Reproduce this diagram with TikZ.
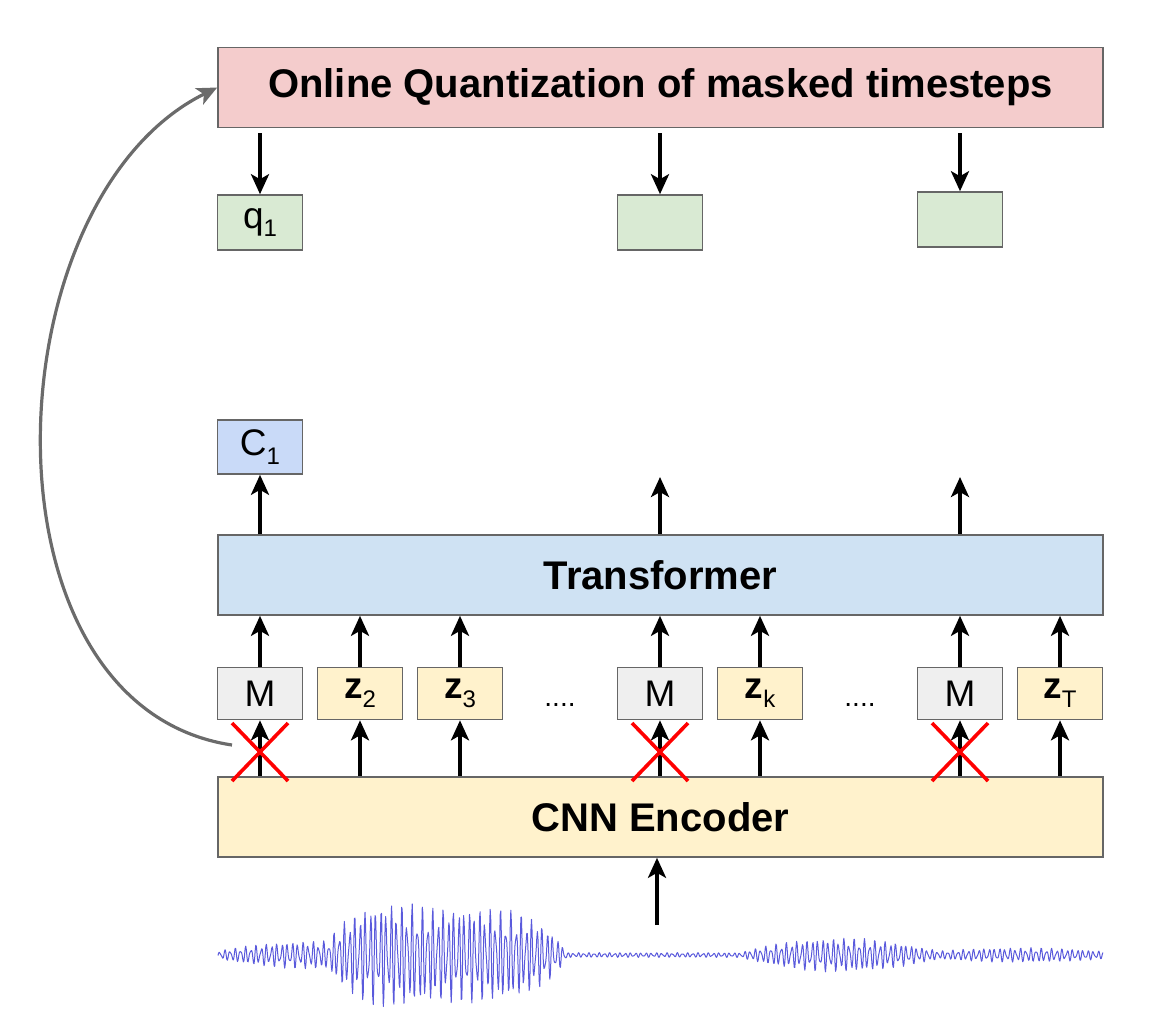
\documentclass[tikz,border=0pt]{standalone}
\usepackage{fontspec}
\setmainfont{Liberation Sans}
\usetikzlibrary{arrows.meta}
\tikzset{>={Stealth[length=10pt,width=9pt,inset=2.5pt]}}
\definecolor{quantpink}{HTML}{F4CCCC}
\definecolor{qgreen}{HTML}{D9EAD3}
\definecolor{cblue}{HTML}{C9DAF8}
\definecolor{transblue}{HTML}{CFE2F3}
\definecolor{cnnyellow}{HTML}{FFF2CC}
\definecolor{mgray}{HTML}{EFEFEF}
\definecolor{edgegray}{HTML}{666666}
\definecolor{wave}{HTML}{5A5ADC}
\newcommand{\lowidx}[1]{\raisebox{-0.45ex}{\fontsize{12}{12}\selectfont #1}}

\begin{document}
\begin{tikzpicture}[
  bar/.style={draw=edgegray, line width=0.8pt, minimum width=442.5pt,
    minimum height=40pt, inner sep=0pt,
    font=\fontsize{20}{24}\selectfont\bfseries},
  tok/.style={draw=edgegray, line width=0.8pt, minimum width=42.5pt,
    minimum height=26pt, inner sep=0pt, font=\fontsize{18.5}{20}\selectfont},
  flow/.style={->, line width=1.8pt},
  cross/.style={red, line width=1.8pt},
  feedback/.style={->, line width=1.6pt, color=black!58},
  declare function={bump(\t,\c,\w)=max(0,1-((\t-\c)/\w)*((\t-\c)/\w));
    flat(\t,\c,\w)=max(0,1-((\t-\c)/\w)*((\t-\c)/\w)*((\t-\c)/\w)*((\t-\c)/\w));}]

\newcommand\X{50pt}
\newcommand\Xo{130pt}
\newcommand\Ytok{-346.75pt}

  \useasboundingbox (0pt,0pt) rectangle (586.5pt,-512.5pt);

  %% wide blocks
  \node[bar, fill=quantpink] (quant) at (330.25pt,-43.75pt)
  {Online Quantization of masked timesteps};
  \node[bar, fill=transblue] (trans) at (330.25pt,-287.5pt) {Transformer};
  \node[bar, fill=cnnyellow] (cnn) at (330.25pt,-408.5pt) {CNN Encoder};

  %% quantized targets
  \node[tok, fill=qgreen, minimum height=27.5pt] (q1) at (\Xo, -111.25pt)
  {q\lowidx{1}};
  \node[tok, fill=qgreen, minimum height=27.5pt] (q4) at (\Xo+4*\X, -111.25pt) {};
  \node[tok, fill=qgreen, minimum height=27.5pt] (q7) at (\Xo+7*\X, -109.75pt) {};

  %% context outputs
  \node[tok, fill=cblue, minimum height=27pt] (c1) at (\Xo, -223.5pt) {C\lowidx{1}};
  \coordinate (c4) at (\Xo+4*\X, -238.5pt);
  \coordinate (c7) at (\Xo+7*\X, -238.5pt);

  %% latent row
  \node[tok, fill=mgray] (t0) at (\Xo, \Ytok) {M};
  \node[tok, fill=cnnyellow] (t1) at (\Xo+1*\X, \Ytok) {\textbf{z}\lowidx{2}};
  \node[tok, fill=cnnyellow] (t2) at (\Xo+2*\X, \Ytok) {\textbf{z}\lowidx{3}};
  \node[anchor=base, font=\fontsize{14}{14}\selectfont] (dots1)
  at (\Xo+3*\X, \Ytok-6.5pt) {....};
  \node[tok, fill=mgray] (t4) at (\Xo+4*\X, \Ytok) {M};
  \node[tok, fill=cnnyellow] (t5) at (\Xo+5*\X, \Ytok) {\textbf{z}\lowidx{k}};
  \node[anchor=base, font=\fontsize{14}{14}\selectfont] (dots2)
  at (\Xo+6*\X, \Ytok-6.5pt) {....};
  \node[tok, fill=mgray] (t7) at (\Xo+7*\X, \Ytok) {M};
  \node[tok, fill=cnnyellow] (t8) at (\Xo+8*\X, \Ytok) {\textbf{z}\lowidx{T}};

  \foreach \i in {0,1,2,4,5,7,8}{
    \draw[flow] (cnn.north -| t\i) -- (t\i.south);
    \draw[flow] (t\i.north) -- (t\i.north |- trans.south);
  }
  \draw[flow] (trans.north -| c1) -- (c1.south);
  \draw[flow] (trans.north -| c4) -- (c4);
  \draw[flow] (trans.north -| c7) -- (c7);
  \foreach \i in {1,4,7}
    \draw[flow, shorten <=2.5pt] (quant.south -| q\i) -- (q\i.north);

  %% masked timesteps
  \foreach \i in {0,4,7}
    \draw[cross] (t\i |- 0pt,-376pt) +(-14pt,-14.5pt) -- +(14pt,14.5pt)
    +(-14pt,14.5pt) -- +(14pt,-14.5pt);

  \coordinate (masked) at (116pt,-372.5pt);
  \draw[feedback] (masked) .. controls (-14pt,-353pt) and (-5pt,-100pt)
  .. (quant.west);

  %% raw audio
  \coordinate (audio) at (328.5pt,-462.5pt);
  \draw[flow] (audio) -- (audio |- cnn.south);

  \begin{scope}[x=1pt, y=1pt]
    \draw[wave, line width=0.5pt, line join=round]
    plot[domain=109:551.5, samples=1500]
    (\x, {-477.5 + (1.2 + 6*bump(\x,160,55) + 23*flat(\x,224,60)
      + 7.5*bump(\x,420,50) + 2.5*bump(\x,510,50))
      *(0.7*sin(mod(\x,2.6)*138.46) + 0.3*sin(mod(\x,1.7)*211.76))});
  \end{scope}

\end{tikzpicture}
\end{document}
